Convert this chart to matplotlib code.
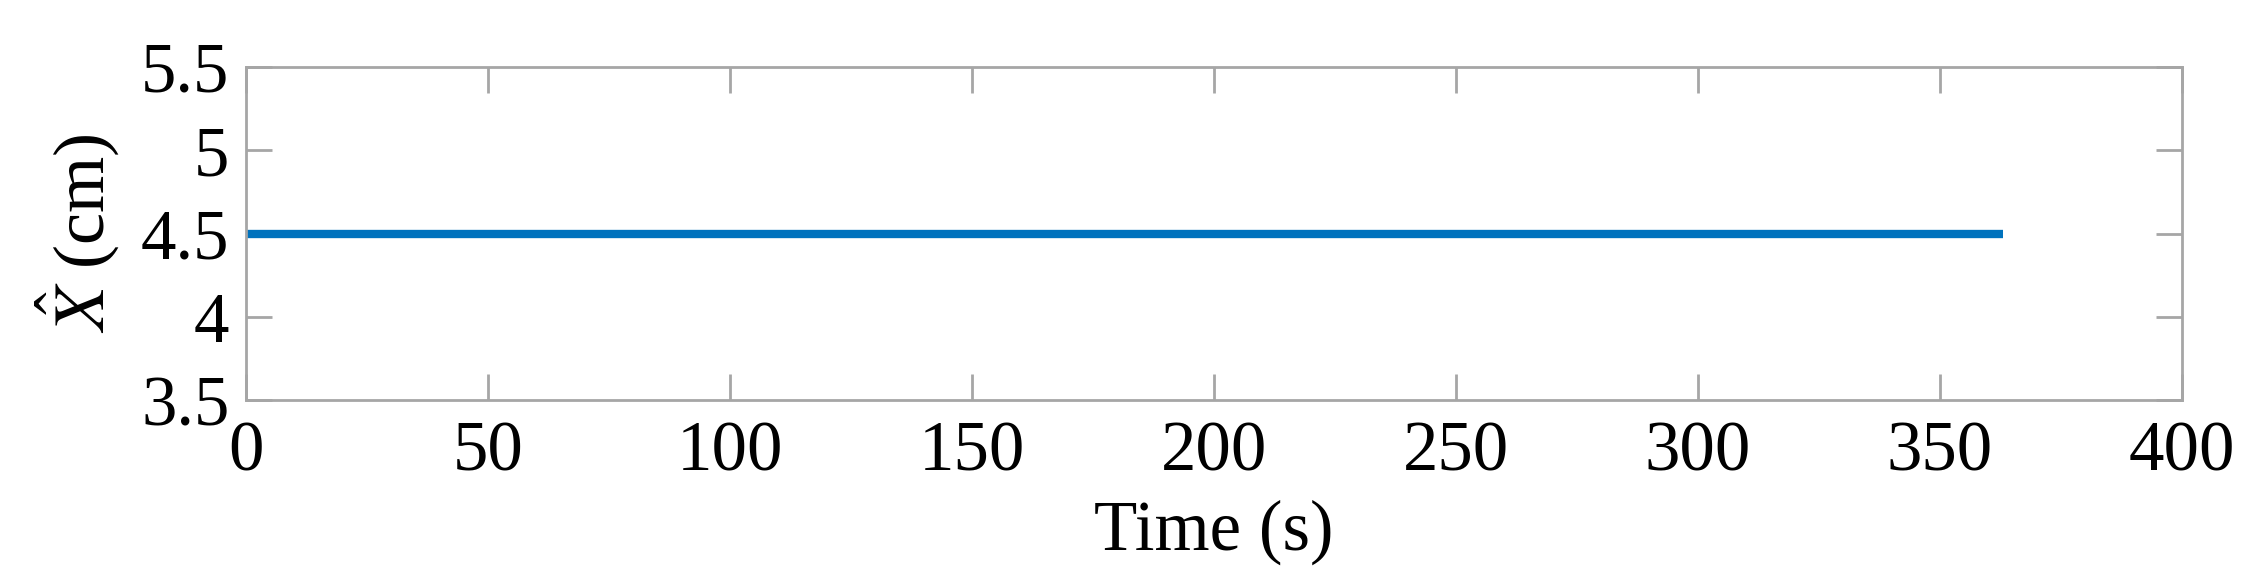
import matplotlib.pyplot as plt
import numpy as np

# estimated state, constant over the run
time_s = [0, 363]
x_hat_cm = [4.5, 4.5]

xticks = [0, 50, 100, 150, 200, 250, 300, 350, 400]
yticks = [3.5, 4, 4.5, 5, 5.5]

plt.rcParams['font.family'] = ['Liberation Serif', 'DejaVu Serif']
plt.rcParams['mathtext.fontset'] = 'stix'

W, H = 2246, 588
fig = plt.figure(figsize=(W / 100, H / 100), dpi=100)
ax = fig.add_axes([246 / W, 1 - 400 / H, (2182 - 246) / W, (400 - 67) / H])

ax.plot(time_s, x_hat_cm, color='#0072BD', lw=6, solid_capstyle='butt')

ax.set_xlim(0, 400)
ax.set_ylim(3.5, 5.5)
ax.set_xticks(xticks)
ax.set_yticks(yticks)
ax.set_yticklabels(['3.5', '4', '4.5', '5', '5.5'])

for s in ax.spines.values():
    s.set_color('#a6a6a6')
    s.set_linewidth(2)
ax.tick_params(direction='in', length=19, width=2, color='#a6a6a6',
               labelsize=51, top=True, right=True)
ax.tick_params(axis='x', pad=15)
ax.tick_params(axis='y', pad=12)

ax.set_xlabel('Time (s)', fontsize=51, labelpad=10)
ax.set_ylabel(r'$\hat{X}$ (cm)', fontsize=52, labelpad=14)

fig.savefig('out.png', dpi=100)
